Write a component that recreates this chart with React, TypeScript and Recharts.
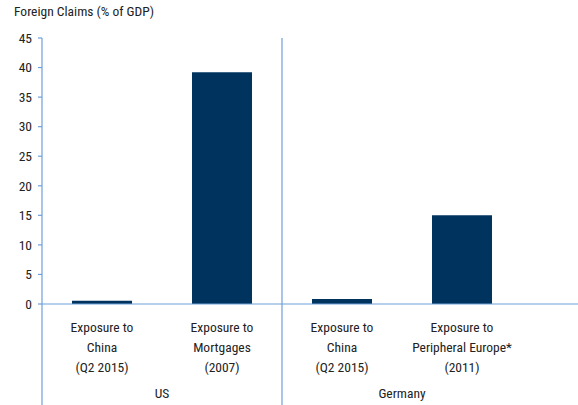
import React from "react";
import { Bar, BarChart, XAxis, YAxis } from "recharts";

const categories = [
  "Exposure to|China|(Q2 2015)",
  "Exposure to|Mortgages|(2007)",
  "Exposure to|China|(Q2 2015)",
  "Exposure to|Peripheral Europe*|(2011)",
];
const groups = ["US", "US", "Germany", "Germany"];
const claims = [0.55, 39.2, 0.85, 15.0];
const yTicks = [0, 5, 10, 15, 20, 25, 30, 35, 40, 45];

const data = categories.map((c, i) => ({
  key: `${groups[i]}-${i}`,
  label: c,
  group: groups[i],
  value: claims[i],
}));

const FONT = "'Liberation Sans Narrow', 'Roboto Condensed', Roboto, sans-serif";
const LINE = "#6f9fd8";
const TOP = 38;
const H = 405;

function CategoryTick(props: any) {
  const { x, y, payload, index } = props;
  const row = data[index];
  const half = payload.offset ?? 60;
  const lines = row.label.split("|");
  const isGroupEnd = index === data.length - 1 || data[index + 1].group !== row.group;
  return (
    <g>
      {lines.map((t: string, i: number) => (
        <text
          key={i}
          x={x}
          y={y + 20 + i * 20}
          textAnchor="middle"
          fontSize={13.5}
          fontFamily={FONT}
          fill="#222"
        >
          {t}
        </text>
      ))}
      {index === 0 && (
        <line x1={x - half} x2={x - half} y1={y - 8} y2={H} stroke={LINE} strokeWidth={1.2} />
      )}
      {isGroupEnd && index < data.length - 1 && (
        <line x1={x + half} x2={x + half} y1={TOP} y2={H} stroke={LINE} strokeWidth={1.2} />
      )}
      {isGroupEnd && (
        <text
          x={x - half}
          y={y + 86}
          textAnchor="middle"
          fontSize={13.5}
          fontFamily={FONT}
          fill="#222"
        >
          {row.group}
        </text>
      )}
    </g>
  );
}

export default function App() {
  return (
    <div style={{ position: "absolute", left: 0, top: 0, width: 578, height: 405, background: "#fff" }}>
      <div
        style={{
          position: "absolute",
          left: 14,
          top: 3,
          fontFamily: FONT,
          fontSize: 13.5,
          color: "#222",
        }}
      >
        Foreign Claims (% of GDP)
      </div>
      <BarChart
        width={578}
        height={405}
        data={data}
        margin={{ top: TOP, right: 0, left: 0, bottom: 0 }}
      >
        <XAxis
          dataKey="key"
          height={101}
          axisLine={{ stroke: LINE, strokeWidth: 1.2 }}
          tickLine={false}
          padding={{ left: 0, right: 56 }}
          interval={0}
          tick={<CategoryTick />}
        />
        <YAxis
          width={42}
          domain={[0, 45]}
          ticks={yTicks}
          interval={0}
          tickSize={4}
          tickMargin={6}
          axisLine={{ stroke: LINE, strokeWidth: 1.2 }}
          tickLine={{ stroke: LINE, strokeWidth: 1.2 }}
          tick={{ fontSize: 13.5, fontFamily: FONT, fill: "#222" }}
        />
        <Bar dataKey="value" fill="#00345f" barSize={60} isAnimationActive={false} />
      </BarChart>
    </div>
  );
}
